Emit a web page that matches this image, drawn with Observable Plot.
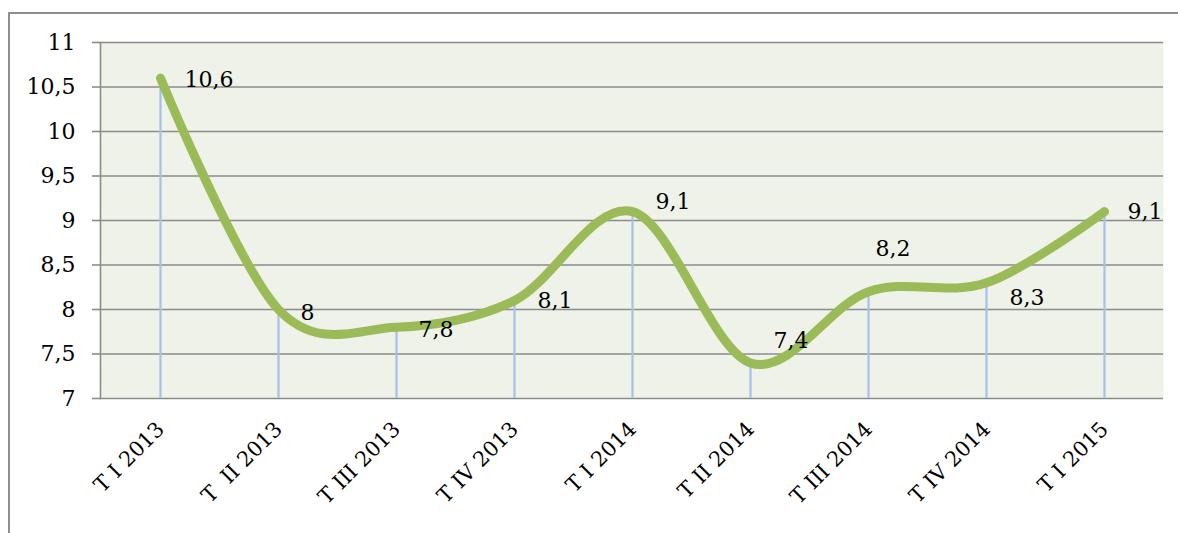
<!DOCTYPE html>
<html>
<head>
<meta charset="utf-8">
<script src="https://cdn.jsdelivr.net/npm/d3@7"></script>
<script src="https://cdn.jsdelivr.net/npm/@observablehq/plot@0.6"></script>
<style>
  html, body { margin: 0; padding: 0; background: #fff; overflow: hidden; }
  #wrap { position: relative; width: 1178px; height: 533px; }
  #border { position: absolute; left: 8px; top: 12px; width: 1200px; height: 600px; border: 2px solid #8e8e8e; box-sizing: border-box; }
  #chart { position: absolute; left: 0; top: 0; }
</style>
</head>
<body>
<div id="wrap"><div id="border"></div><div id="chart"></div></div>
<script>
const quarters = ["T I 2013", "T  II 2013", "T III 2013", "T IV 2013", "T I 2014", "T II 2014", "T III 2014", "T IV 2014", "T I 2015"];
const values = [10.6, 8, 7.8, 8.1, 9.1, 7.4, 8.2, 8.3, 9.1];
const yTicks = [7, 7.5, 8, 8.5, 9, 9.5, 10, 10.5, 11];
// label placement (pixel offsets relative to each point)
const labelDx = [24, 22, 22, 23, 23, 23, 7, 23, 23];
const labelDy = [2, 3, 3, 0, -10, -22, -43, 15, 0];

const data = quarters.map((q, i) => ({q, v: values[i], i}));
const fmt = d => String(d).replace(".", ",");
const serif = "DejaVu Serif";

const marks = [
  Plot.frame({fill: "#eef2e8", stroke: null}),
  Plot.ruleY(yTicks, {y: d => d, stroke: "#8c8c8c", strokeWidth: 1.6}),
  Plot.axisY({ticks: yTicks, tickSize: 8, tickFormat: () => "", label: null, color: "#8c8c8c", strokeWidth: 1.6}),
  Plot.text(yTicks, {y: d => d, text: fmt, frameAnchor: "left", dx: -25, textAnchor: "end", fontSize: 22, fontFamily: serif, fill: "#000"}),
  Plot.frame({anchor: "left", stroke: "#8c8c8c", strokeWidth: 1.6}),
  Plot.text(quarters, {x: d => d, text: d => d, frameAnchor: "bottom", rotate: -45, textAnchor: "end", dx: 5, dy: 32, fontSize: 21, fontFamily: serif, fill: "#000"}),
  Plot.ruleX(data, {x: "q", y1: 7, y2: "v", stroke: "#a8bfe9", strokeWidth: 2.2, ariaLabel: "droplines"}),
  Plot.line(data, {x: "q", y: "v", curve: "cardinal", tension: 0, stroke: "#9bbb59", strokeWidth: 9, strokeLinecap: "round", strokeLinejoin: "round"}),
  ...data.map(d => Plot.text([d], {x: "q", y: "v", text: e => fmt(e.v), dx: labelDx[d.i], dy: labelDy[d.i], textAnchor: "start", fontSize: 22, fontFamily: serif, fill: "#000"}))
];

const chart = Plot.plot({
  width: 1178,
  height: 533,
  marginLeft: 100,
  marginRight: 15,
  marginTop: 42,
  marginBottom: 135,
  style: {background: "transparent", overflow: "visible"},
  x: {type: "point", domain: quarters, padding: 0.5, axis: null},
  y: {domain: [7, 11], axis: null},
  marks
});

// vertical gradient on drop lines
const svg = d3.select(chart);
const defs = svg.insert("defs", ":first-child");
const g = defs.append("linearGradient").attr("id", "dropgrad").attr("gradientUnits", "userSpaceOnUse")
  .attr("x1", 0).attr("x2", 0).attr("y1", 42).attr("y2", 398);
g.append("stop").attr("offset", "0%").attr("stop-color", "#9db6e6");
g.append("stop").attr("offset", "60%").attr("stop-color", "#b3c7ec");
g.append("stop").attr("offset", "100%").attr("stop-color", "#e0e8f5");
svg.selectAll("g[aria-label='droplines'] line").attr("stroke", "url(#dropgrad)");
svg.selectAll("g[aria-label='droplines']").attr("stroke", "url(#dropgrad)");

document.getElementById("chart").appendChild(chart);
</script>
</body>
</html>
